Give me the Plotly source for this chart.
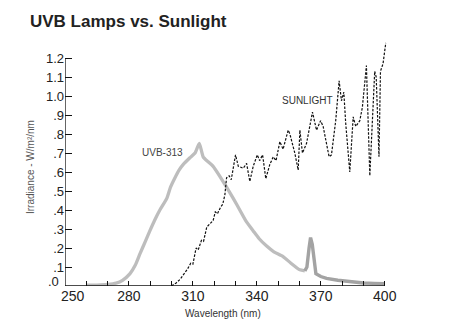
import plotly.graph_objects as go

# ---- data ----
uvb_nm = [260, 265, 270, 274, 277, 280.5, 283, 285.2, 287.5, 289.8, 292, 294.5, 297.7, 299.5,
          301.6, 303.5, 305.5, 308.6, 311, 313, 314.8, 317, 319.5, 322.5, 325.8, 329, 332, 335,
          338.3, 341, 344.6, 348, 352.3, 356, 360.2, 362.5]
uvb_val = [0.004, 0.005, 0.008, 0.015, 0.03, 0.065, 0.11, 0.17, 0.23, 0.29, 0.345, 0.40, 0.46, 0.52,
           0.57, 0.61, 0.64, 0.675, 0.70, 0.75, 0.68, 0.655, 0.63, 0.58, 0.52, 0.46, 0.40, 0.34,
           0.29, 0.25, 0.21, 0.18, 0.155, 0.12, 0.085, 0.08]
uvb_tail_nm = [362.5, 363.5, 364.5, 365.2, 366, 366.6, 367.7, 370, 372.7, 378, 383.6, 390, 395, 400]
uvb_tail_val = [0.08, 0.10, 0.20, 0.255, 0.22, 0.16, 0.065, 0.05, 0.04, 0.03, 0.022, 0.016, 0.014, 0.012]

sun_nm = [300, 302, 304, 306, 307.5, 309, 310, 311.5, 312.5, 314, 315, 316.5, 318, 319.5, 320.5,
          321.5, 323, 324, 325, 325.8, 327, 328, 330, 331.3, 333.6, 335.2, 336.7, 338.3, 340.2,
          341.3, 342.7, 344.2, 346.1, 347.7, 349, 350.8, 352.3, 354.7, 355.5, 357.8, 359.4, 360.2,
          361.4, 363.3, 366.1, 368, 369.9, 371.1, 373.9, 375, 377, 378.6, 379.7, 380.8, 381.7,
          383.6, 385.2, 386.4, 388.3, 389.5, 391.4, 393, 395.3, 396, 397.3, 398, 399.2, 400.5]
sun_val = [0, 0.015, 0.035, 0.065, 0.09, 0.12, 0.115, 0.2, 0.19, 0.24, 0.235, 0.31, 0.33, 0.345, 0.39,
           0.38, 0.415, 0.43, 0.48, 0.57, 0.58, 0.56, 0.69, 0.63, 0.62, 0.645, 0.55, 0.63, 0.69,
           0.66, 0.69, 0.565, 0.64, 0.68, 0.66, 0.76, 0.72, 0.82, 0.80, 0.70, 0.61, 0.82,
           0.70, 0.75, 0.915, 0.82, 0.87, 0.84, 0.68, 0.69, 0.87, 1.08, 0.975, 1.02, 0.855,
           0.60, 0.89, 0.84, 0.87, 0.94, 1.16, 0.58, 1.13, 1.10, 0.68, 1.13, 1.17, 1.28]

x_tickvals = list(range(250, 401, 10))
x_ticktext = [str(v) if (v - 250) % 30 == 0 and v != 250 else "" for v in x_tickvals]
y_tickvals = [i / 10 for i in range(0, 13)]
y_ticktext = ["", ".1", ".2", ".3", ".4", ".5", ".6", ".7", ".8", ".9", "1.0", "1.1", "1.2"]

# ---- layout geometry (pixels) ----
W, H = 467, 333
L, R, T, B = 65, 78, 39, 47
pw, ph = W - L - R, H - T - B

def px(xp):
    return (xp - L) / pw

def py(yp):
    return (H - B - yp) / ph

fig = go.Figure()
fig.add_trace(go.Scatter(x=uvb_nm, y=uvb_val, mode="lines",
                         line=dict(color="#bdbdbd", width=3.3, shape="spline", smoothing=0.5),
                         hoverinfo="skip"))
fig.add_trace(go.Scatter(x=uvb_tail_nm, y=uvb_tail_val, mode="lines",
                         line=dict(color="#a3a3a3", width=3.4), hoverinfo="skip"))
fig.add_trace(go.Scatter(x=sun_nm, y=sun_val, mode="lines",
                         line=dict(color="#111111", width=1.2, dash="2.5px,1.5px"), hoverinfo="skip"))

font = "Arial, Liberation Sans, sans-serif"

fig.update_layout(
    width=W, height=H,
    margin=dict(l=L, r=R, t=T, b=B),
    paper_bgcolor="white", plot_bgcolor="white",
    showlegend=False,
    font=dict(family=font, color="#222222"),
    title=dict(text="<b>UVB Lamps vs. Sunlight</b>", x=30 / W, xanchor="left",
               y=1 - 21 / H, yanchor="middle", yref="container",
               font=dict(family=font, size=17, color="#222222")),
    xaxis=dict(range=[250, 402], showgrid=False, zeroline=False, showline=False,
               tickmode="array", tickvals=x_tickvals, ticktext=x_ticktext,
               ticks="inside", ticklen=5, tickcolor="#111", tickwidth=1,
               tickfont=dict(size=14, color="#222")),
    yaxis=dict(range=[0, 1.3], showgrid=False, zeroline=False, showline=False,
               tickmode="array", tickvals=y_tickvals, ticktext=y_ticktext,
               ticks="inside", ticklen=7, tickcolor="#111", tickwidth=1,
               tickfont=dict(size=13, color="#222")),
    shapes=[
        dict(type="line", xref="x", yref="y", x0=250, x1=250, y0=0, y1=1.2,
             line=dict(color="#111", width=1.3)),
        dict(type="line", xref="x", yref="y", x0=250, x1=400, y0=0, y1=0,
             line=dict(color="#111", width=1.3)),
    ],
    annotations=[
        dict(text="SUNLIGHT", x=363.9, y=0.977, xref="x", yref="y", showarrow=False,
             xanchor="center", yanchor="middle", font=dict(size=10, color="#333")),
        dict(text="UVB-313", x=295.8, y=0.705, xref="x", yref="y", showarrow=False,
             xanchor="center", yanchor="middle", font=dict(size=10, color="#444")),
        dict(text=".0", x=px(61), y=py(281), xref="paper", yref="paper", showarrow=False,
             xanchor="right", yanchor="middle", font=dict(size=13, color="#222")),
        dict(text="250", x=px(73), y=py(296), xref="paper", yref="paper", showarrow=False,
             xanchor="center", yanchor="middle", font=dict(size=14, color="#222")),
        dict(text="Wavelength (nm)", x=px(223), y=py(313), xref="paper", yref="paper",
             showarrow=False, xanchor="center", yanchor="middle",
             font=dict(size=10, color="#333")),
        dict(text="Irradiance - W/m²/nm", x=px(30), y=py(167), xref="paper", yref="paper",
             showarrow=False, textangle=-90, xanchor="center", yanchor="middle",
             font=dict(size=10, color="#555")),
    ],
)

fig.write_html("out.html")
